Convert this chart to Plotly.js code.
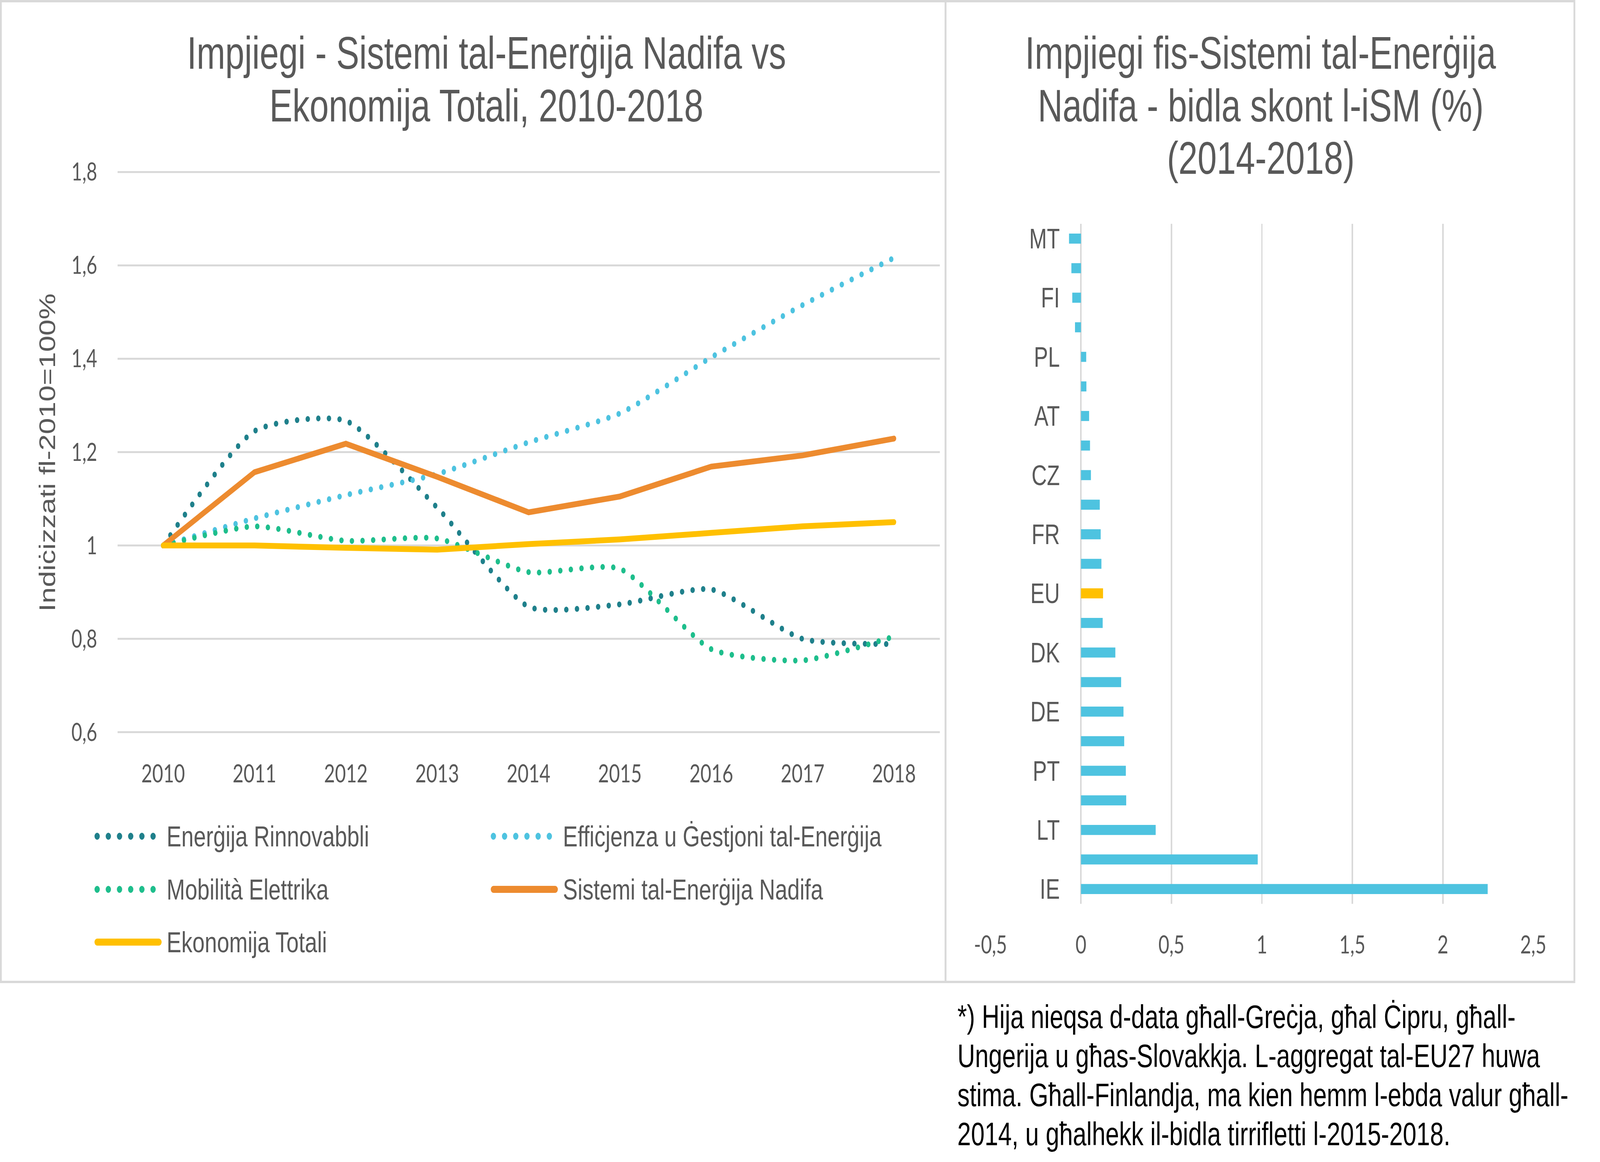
<!DOCTYPE html>
<html>
<head>
<meta charset="utf-8">
<script src="https://cdn.plot.ly/plotly-3.0.1.min.js"></script>
<style>
  html, body { margin: 0; padding: 0; background: #fff; overflow: hidden; }
  #chart { width: 5435px; height: 2975px; }
  /* round dots like the Excel "round dot" dash */
  #chart .scatterlayer .js-line, #chart .shapelayer path { stroke-linecap: round; }
</style>
</head>
<body>
<div id="chart"></div>
<script>
// left chart: index 2010 = 1
const years = ["2010", "2011", "2012", "2013", "2014", "2015", "2016", "2017", "2018"];
const rinnovabbli = [1.0, 1.245, 1.267, 1.081, 0.869, 0.874, 0.906, 0.800, 0.789];
const effiċjenza = [1.0, 1.058, 1.108, 1.153, 1.221, 1.283, 1.403, 1.515, 1.616];
const mobilita = [1.0, 1.041, 1.010, 1.015, 0.943, 0.950, 0.778, 0.754, 0.805];
const sistemi = [1.0, 1.157, 1.218, 1.147, 1.071, 1.105, 1.169, 1.193, 1.229];
const ekonomija = [1.0, 1.0, 0.995, 0.991, 1.003, 1.013, 1.027, 1.041, 1.050];
const yTickVals = [0.6, 0.8, 1, 1.2, 1.4, 1.6, 1.8];

// right chart: change by member state, top to bottom
const states = ["MT", "SE", "FI", "LU", "PL", "HR", "AT", "BG", "CZ", "SI", "FR", "RO",
  "EU", "IT", "DK", "BE", "DE", "NL", "PT", "LV", "LT", "ES", "IE"];
const change = [-0.066, -0.053, -0.048, -0.033, 0.029, 0.030, 0.045, 0.050, 0.055, 0.104, 0.109, 0.113,
  0.122, 0.120, 0.190, 0.222, 0.235, 0.239, 0.248, 0.250, 0.413, 0.977, 2.248];
const xTickVals = [-0.5, 0, 0.5, 1, 1.5, 2, 2.5];

const footnote = [
  "*) Hija nieqsa d-data għall-Greċja, għal Ċipru, għall-",
  "Ungerija u għas-Slovakkja. L-aggregat tal-EU27 huwa",
  "stima. Għall-Finlandja, ma kien hemm l-ebda valur għall-",
  "2014, u għalhekk il-bidla tirrifletti l-2015-2018."
];

const W = 5435, H = 2975;
const px = x => x / W;
const py = y => 1 - y / H;

const GREY = "#595959";
const GRID = "#D9D9D9";
const BLUE = "#4EC3E0";
const YELLOW = "#FFC000";
const TEXT_FONT = "Liberation Sans, Arial, sans-serif";
const NUM_FONT = "Lato, sans-serif";
const DOTS = "0px,36px";

function commaNum(v)
{
  return String(v).replace(".", ",");
}

// if the window is smaller than the chart, squeeze the whole drawing into it
function fitToWindow()
{
  const div = document.getElementById("chart");
  const sx = Math.min(1, window.innerWidth / W);
  const sy = Math.min(1, window.innerHeight / H);
  if (sx < 1 || sy < 1) {
    div.style.transformOrigin = "0 0";
    div.style.transform = `scale(${sx}, ${sy})`;
  }
}

const series = [
  {name: "Enerġija Rinnovabbli", y: rinnovabbli, color: "#1F808B", dotted: true},
  {name: "Effiċjenza u Ġestjoni tal-Enerġija", y: effiċjenza, color: BLUE, dotted: true},
  {name: "Mobilità Elettrika", y: mobilita, color: "#1EBE8C", dotted: true},
  {name: "Sistemi tal-Enerġija Nadifa", y: sistemi, color: "#ED8B2F", dotted: false},
  {name: "Ekonomija Totali", y: ekonomija, color: YELLOW, dotted: false},
];

const traces = series.map(s => ({
  type: "scatter",
  mode: "lines",
  x: years,
  y: s.y,
  name: s.name,
  xaxis: "x",
  yaxis: "y",
  line: {
    color: s.color,
    width: 15,
    dash: s.dotted ? DOTS : "solid",
    shape: s.dotted ? "spline" : "linear",
    smoothing: 0.6
  },
  showlegend: false
}));

traces.push({
  type: "bar",
  orientation: "h",
  x: change,
  y: states,
  xaxis: "x2",
  yaxis: "y2",
  marker: {color: states.map(s => s === "EU" ? YELLOW : BLUE)},
  showlegend: false
});

function note(text, x, y, size, color, xanchor, extra)
{
  return Object.assign({
    text, x: px(x), y: py(y), xref: "paper", yref: "paper",
    xanchor, yanchor: "middle", showarrow: false,
    font: {family: TEXT_FONT, size, color}
  }, extra || {});
}

const annotations = [];
// titles
annotations.push(note("Impjiegi - Sistemi tal-Enerġija Nadifa vs", 1652, 136, 117, GREY, "center"));
annotations.push(note("Ekonomija Totali, 2010-2018", 1652, 271, 117, GREY, "center"));
annotations.push(note("Impjiegi fis-Sistemi tal-Enerġija", 4282, 136, 117, GREY, "center"));
annotations.push(note("Nadifa - bidla skont l-iSM (%)", 4282, 271, 117, GREY, "center"));
annotations.push(note("(2014-2018)", 4282, 405, 117, GREY, "center"));
// y axis title
annotations.push(note("Indiċizzati fl-2010=100%", 161, 1159, 75, GREY, "center", {textangle: -90}));
// footnote
footnote.forEach((line, i) => {
  annotations.push(note(line, 3250, 2603 + i * 100, 83, "#000000", "left"));
});

// borders of the two panels
const shapes = [
  {type: "rect", xref: "paper", yref: "paper", x0: px(3), x1: px(3212), y0: py(3), y1: py(2514),
    line: {color: GRID, width: 6}, layer: "below"},
  {type: "rect", xref: "paper", yref: "paper", x0: px(3212), x1: px(5348), y0: py(3), y1: py(2514),
    line: {color: GRID, width: 6}, layer: "below"},
];
// legend, two columns like the original
const legendCols = [321, 1667];
const legendRows = [2141, 2277, 2412];
series.forEach((s, i) => {
  const x0 = legendCols[i % 2];
  const y = legendRows[Math.floor(i / 2)];
  shapes.push({
    type: "line", xref: "paper", yref: "paper",
    x0: px(x0 + 9), x1: px(x0 + 219), y0: py(y), y1: py(y),
    line: {color: s.color, width: 18, dash: s.dotted ? "0px,38px" : "solid"}
  });
  annotations.push(note(s.name, x0 + 243, y, 75, GREY, "left"));
});

const layout = {
  width: W,
  height: H,
  margin: {l: 0, r: 0, t: 0, b: 0},
  paper_bgcolor: "#ffffff",
  plot_bgcolor: "rgba(0,0,0,0)",
  separators: ", ",
  showlegend: false,
  bargap: 0.66,

  xaxis: {
    domain: [px(399), px(3192)],
    anchor: "y",
    type: "category",
    range: [-0.5, 8.5],
    showgrid: false,
    zeroline: false,
    showline: false,
    ticks: "",
    ticklabelstandoff: 62,
    tickfont: {family: NUM_FONT, size: 64, color: GREY}
  },
  yaxis: {
    domain: [py(1876), py(439)],
    anchor: "x",
    range: [0.599, 1.801],
    tickmode: "array",
    tickvals: yTickVals,
    ticktext: yTickVals.map(commaNum),
    gridcolor: GRID,
    gridwidth: 5,
    zeroline: false,
    showline: false,
    ticks: "",
    ticklabelstandoff: 68,
    tickfont: {family: NUM_FONT, size: 63, color: GREY}
  },

  xaxis2: {
    domain: [px(3364), px(5209)],
    anchor: "y2",
    range: [-0.501, 2.501],
    tickmode: "array",
    tickvals: xTickVals,
    ticktext: xTickVals.map(commaNum),
    gridcolor: GRID,
    gridwidth: 5,
    zeroline: false,
    showline: false,
    ticks: "",
    ticklabelstandoff: 62,
    tickfont: {family: NUM_FONT, size: 64, color: GREY}
  },
  yaxis2: {
    domain: [py(2314), py(573)],
    anchor: "free",
    position: px(3670),
    type: "category",
    range: [states.length - 0.5, -0.5],
    tickmode: "array",
    tickvals: states.filter((s, i) => i % 2 === 0),
    showgrid: false,
    zeroline: false,
    showline: false,
    ticks: "",
    ticklabelstandoff: 70,
    tickfont: {family: TEXT_FONT, size: 72, color: GREY}
  },

  shapes,
  annotations
};

fitToWindow();
Plotly.newPlot("chart", traces, layout, {staticPlot: true, displayModeBar: false});
</script>
</body>
</html>
